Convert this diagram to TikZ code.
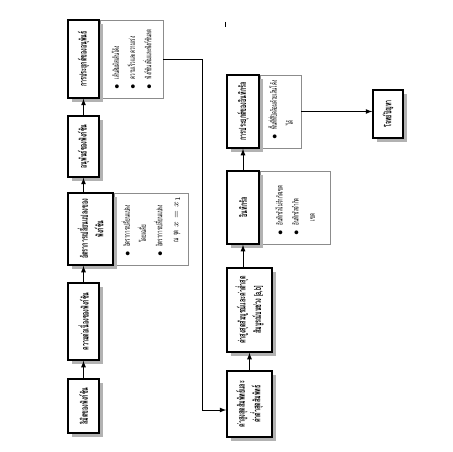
\documentclass[tikz,border=0pt]{standalone}
\usepackage{fontspec}
\newfontfamily\thaifont[Script=Thai,FakeStretch=0.55]{Loma}
\usetikzlibrary{shadows,backgrounds}
\tikzset{
  topic/.style={draw, line width=1.1pt, fill=white, rotate=90, align=center, inner sep=1pt,
    drop shadow={shadow xshift=2.5pt, shadow yshift=-2.5pt, opacity=1, fill=black!30},
    font=\thaifont\bfseries\fontsize{7}{11}\selectfont},
  detail/.style={draw=black!45, fill=white, rotate=90, anchor=north, align=left, inner xsep=6pt,
    font=\thaifont\fontsize{5.8}{11.5}\selectfont}
}
\newcommand\bul{\makebox[7pt][l]{$\bullet$}}
\newcommand\cont{\hspace*{10pt}}
\begin{document}
\begin{tikzpicture}[x=0.025cm, y=-0.025cm, >=latex, semithick]
\useasboundingbox (0,0) rectangle (452,452);
\draw (225,22) -- (225,27);
\node[topic, minimum width=1.95cm, minimum height=.775cm] (A) at (83.5,59) {การประยุกต์ของอนุพันธ์};
\node[topic, minimum width=1.525cm, minimum height=.775cm] (B) at (83.5,146.5) {อนุพันธ์ของฟังก์ชัน};
\node[topic, minimum width=1.8cm, minimum height=1.125cm] (C) at (90.5,229) {อัตราการเปลี่ยนแปลงของ\\ฟังก์ชัน};
\node[topic, minimum width=1.925cm, minimum height=.775cm] (D) at (83.5,321.5) {ความต่อเนื่องของฟังก์ชัน};
\node[topic, minimum width=1.35cm, minimum height=.775cm] (E) at (83.5,406) {ลิมิตของฟังก์ชัน};
\node[topic, minimum width=1.65cm, minimum height=1.125cm] (F) at (249.5,404) {ค่าสูงสุดสัมพัทธ์และ\\ค่าต่ำสุดสัมพัทธ์};
\node[topic, minimum width=2.1cm, minimum height=1.125cm] (G) at (249.5,310) {ค่าสูงสุดสัมบูรณ์และค่าต่ำสุด\\สัมบูรณ์บนช่วง [a,b]};
\node[topic, minimum width=1.825cm, minimum height=.8cm] (H) at (243,207.5) {อินทิกรัล};
\node[topic, minimum width=1.825cm, minimum height=.8cm] (I) at (243,111.5) {การประยุกต์ของอินทิกรัล};
\node[topic, minimum width=1.2cm, minimum height=.75cm] (J) at (388,114) {โจทย์ปัญหา};
\begin{scope}[on background layer]
\node[detail, minimum width=1.95cm, minimum height=1.575cm, text width=1.5cm] (pA) at (A.south)
  {\bul เส้นสัมผัสเส้นโค้ง\\ \bul ความเร็วและความเร่ง\\ \bul ฟังก์ชันเพิ่มและฟังก์ชันลด};
\node[detail, minimum width=1.8cm, minimum height=1.85cm, text width=1.38cm] (pC) at (C.south)
  {\bul อัตราการเปลี่ยนแปลง\\ \cont โดยเฉลี่ย\\ \bul อัตราการเปลี่ยนแปลง\\ \cont \mbox{ณ~จุด~$x=x_1$}};
\node[detail, minimum width=1.825cm, minimum height=1.75cm, text width=1.4cm] (pH) at (H.south)
  {\bul อินทิกรัลไม่จำกัดเขต\\ \bul อินทิกรัลจำกัด\\ \cont เขต};
\node[detail, minimum width=1.825cm, minimum height=1.025cm, text width=1.4cm] (pI) at (I.south)
  {\bul พื้นที่ที่ปิดล้อมด้วยเส้นโค้ง\\ \cont ได้};
\end{scope}
\coordinate (turn) at (202,410);
\draw[->] (E.east) -- (D.west);
\draw[->] (D.east) -- (D.east |- C.west);
\draw[->] (B.west |- C.east) -- (B.west);
\draw[->] (B.east) -- (A.west);
\draw[->] (pA.south) -| (turn) -- (F.north |- turn);
\draw[->] (F.east) -- (G.west);
\draw[->] (H.west |- G.east) -- (H.west);
\draw[->] (H.east) -- (I.west);
\draw[->] (pI.south) -- (J.north |- pI.south);
\end{tikzpicture}
\end{document}
